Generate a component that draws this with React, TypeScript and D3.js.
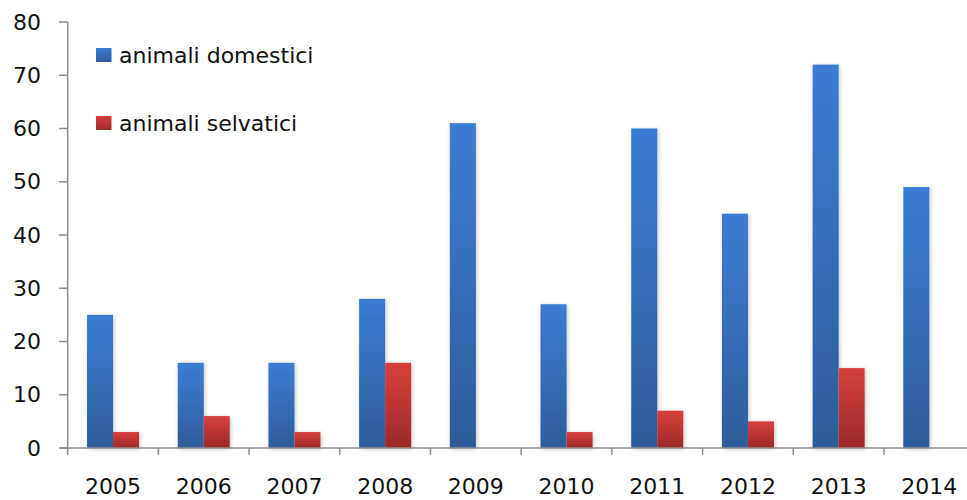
import React from "react";
import * as d3 from "d3";

const categories = ["2005", "2006", "2007", "2008", "2009", "2010", "2011", "2012", "2013", "2014"];
const domestici = [25, 16, 16, 28, 61, 27, 60, 44, 72, 49];
const selvatici = [3, 6, 3, 16, 0, 3, 7, 5, 15, 0];
const yTicks = [0, 10, 20, 30, 40, 50, 60, 70, 80];
const seriesNames = ["animali domestici", "animali selvatici"];

const W = 967;
const H = 500;
const x0 = 67.7;
const bandW = 90.7;
const yTop = 22;
const yBottom = 448;

export default function App() {
  const x = d3
    .scaleBand<string>()
    .domain(categories)
    .range([x0, x0 + bandW * categories.length])
    .paddingInner(0)
    .paddingOuter(0);
  const y = d3.scaleLinear().domain([0, 80]).range([yBottom, yTop]);
  const barW = 26;
  const groupOffset = (bandW - 2 * barW) / 2;
  const font = "'DejaVu Sans', Verdana, sans-serif";
  const axisColor = "#8c8c8c";

  return (
    <svg
      width={W}
      height={H}
      style={{ position: "absolute", left: 0, top: 0, background: "#fff" }}
    >
      <defs>
        <linearGradient id="gBlue" x1="0" y1="0" x2="0" y2="1">
          <stop offset="0" stopColor="#3b7dd3" />
          <stop offset="1" stopColor="#2d5c9a" />
        </linearGradient>
        <linearGradient id="gRed" x1="0" y1="0" x2="0" y2="1">
          <stop offset="0" stopColor="#d63f3c" />
          <stop offset="1" stopColor="#9b2a27" />
        </linearGradient>
        <filter id="shadow" x="-30%" y="-10%" width="160%" height="120%">
          <feGaussianBlur in="SourceAlpha" stdDeviation="2" />
          <feOffset dx="1" dy="1" result="b" />
          <feComponentTransfer>
            <feFuncA type="linear" slope="0.25" />
          </feComponentTransfer>
          <feMerge>
            <feMergeNode />
            <feMergeNode in="SourceGraphic" />
          </feMerge>
        </filter>
      </defs>

      {/* bars */}
      <g filter="url(#shadow)">
        {categories.map((c, i) => {
          const bx = (x(c) as number) + groupOffset;
          return (
            <g key={c}>
              {domestici[i] > 0 && (
                <rect
                  x={bx}
                  y={y(domestici[i])}
                  width={barW}
                  height={y(0) - y(domestici[i])}
                  fill="url(#gBlue)"
                />
              )}
              {selvatici[i] > 0 && (
                <rect
                  x={bx + barW}
                  y={y(selvatici[i])}
                  width={barW}
                  height={y(0) - y(selvatici[i])}
                  fill="url(#gRed)"
                />
              )}
            </g>
          );
        })}
      </g>

      {/* y axis */}
      <line x1={x0} x2={x0} y1={y(80)} y2={y(0)} stroke={axisColor} strokeWidth={1.5} />
      {yTicks.map((t) => (
        <g key={t}>
          <line x1={59} x2={x0} y1={y(t)} y2={y(t)} stroke={axisColor} strokeWidth={1.5} />
          <text
            x={41}
            y={y(t)}
            textAnchor="end"
            dominantBaseline="central"
            fontFamily={font}
            fontSize={22}
            fill="#111"
          >
            {t}
          </text>
        </g>
      ))}

      {/* x axis */}
      <line x1={60} x2={W} y1={y(0)} y2={y(0)} stroke={axisColor} strokeWidth={1.5} />
      {categories.map((c) => (
        <line
          key={"t" + c}
          x1={x(c) as number}
          x2={x(c) as number}
          y1={y(0)}
          y2={y(0) + 7}
          stroke={axisColor}
          strokeWidth={1.5}
        />
      ))}
      {categories.map((c) => (
        <text
          key={"l" + c}
          x={(x(c) as number) + bandW / 2}
          y={494}
          textAnchor="middle"
          fontFamily={font}
          fontSize={22}
          fill="#111"
        >
          {c}
        </text>
      ))}

      {/* legend */}
      {seriesNames.map((s, i) => (
        <g key={s} transform={`translate(96, ${48 + i * 68})`}>
          <rect width={15.5} height={14} fill={i === 0 ? "url(#gBlue)" : "url(#gRed)"} />
          <text x={23} y={15} fontFamily={font} fontSize={22} fill="#111">
            {s}
          </text>
        </g>
      ))}
    </svg>
  );
}
